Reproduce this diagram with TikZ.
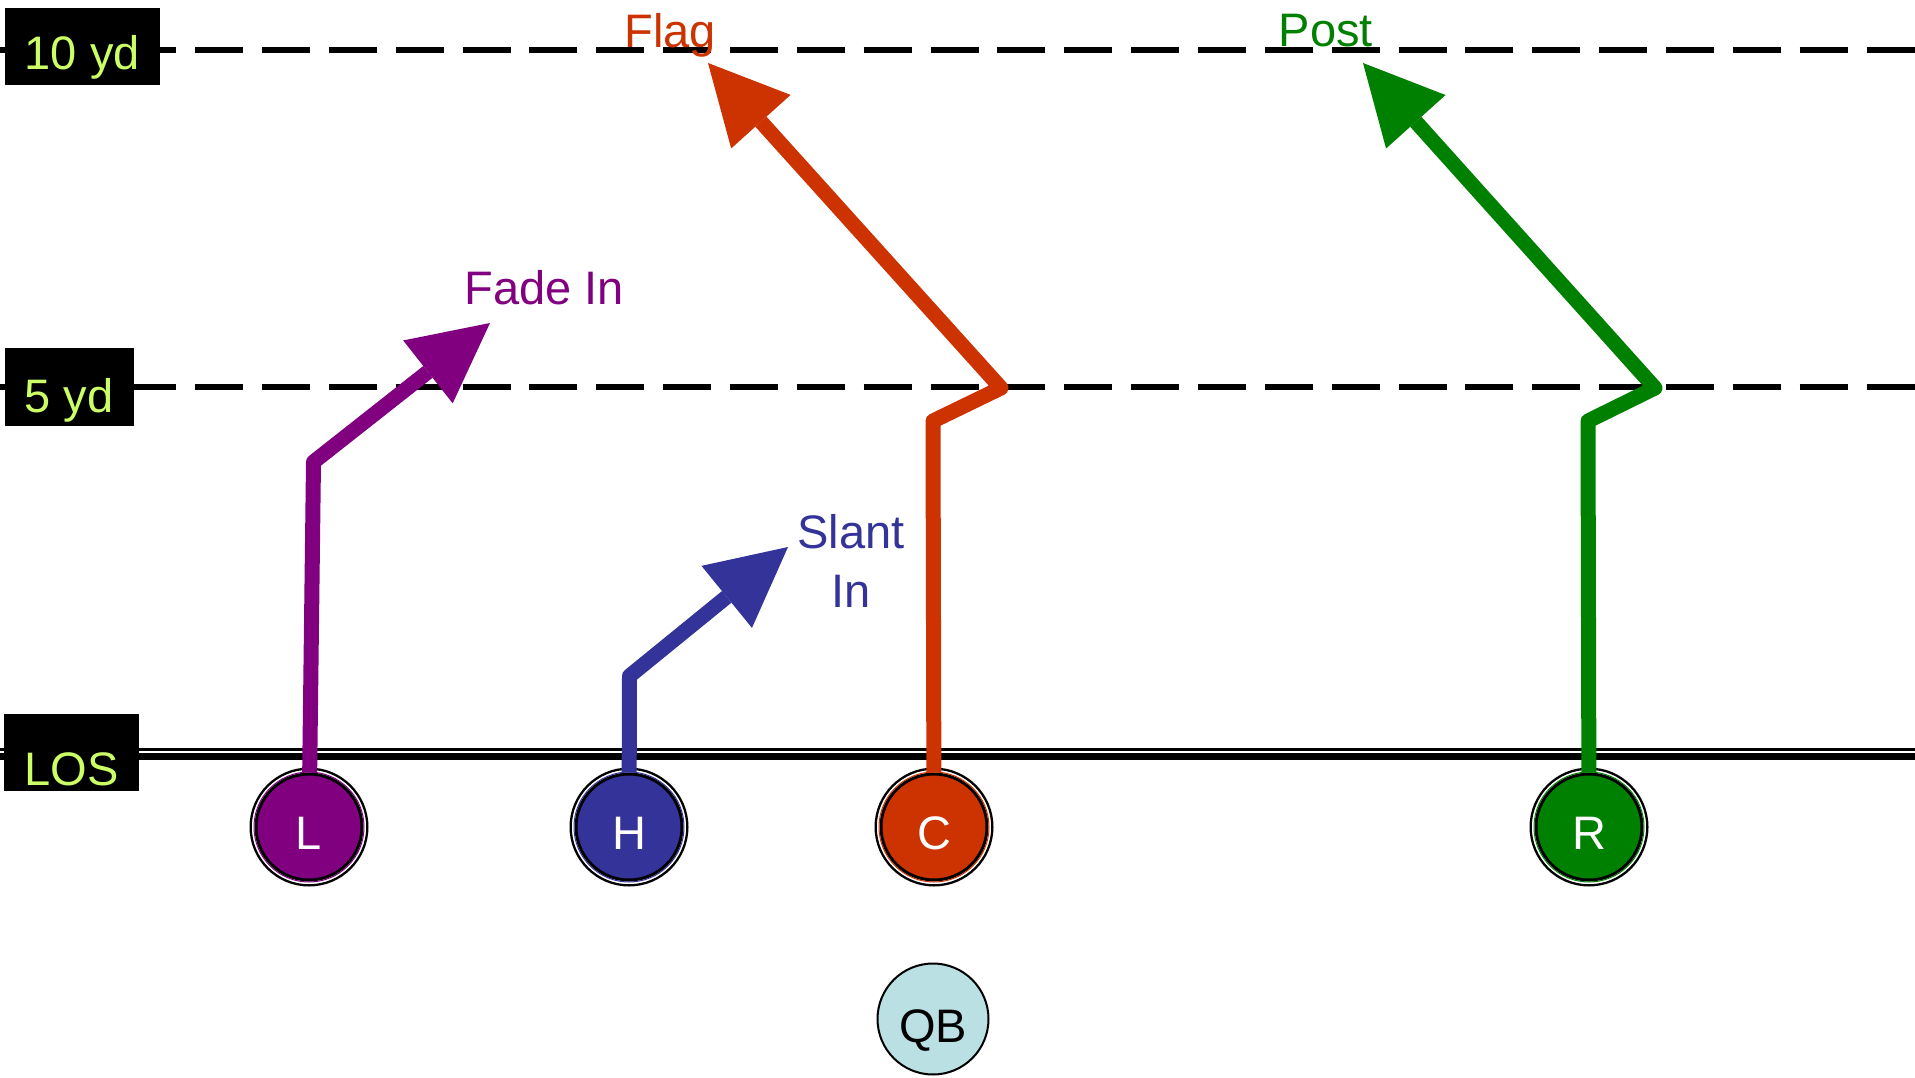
\documentclass[tikz,border=0pt]{standalone}
\usepackage{fontspec}
\setmainfont{Liberation Sans}
\usetikzlibrary{arrows.meta}
\definecolor{lpurple}{HTML}{800080}
\definecolor{hblue}{HTML}{333399}
\definecolor{corange}{HTML}{CC3300}
\definecolor{rgreen}{HTML}{008000}
\definecolor{qbfill}{HTML}{BBE0E3}
\definecolor{ydtext}{HTML}{CCFF66}
\begin{document}
\begin{tikzpicture}[x=1pt,y=-1pt,
  every node/.style={font=\fontsize{47}{56}\selectfont},
  yardline/.style={line width=5.7pt, dash pattern=on 48pt off 18.86pt, dash phase=5.5pt},
  ydbox/.style={rectangle, fill=black, text=ydtext, inner sep=0pt, anchor=base},
  player/.style={circle, inner sep=0pt, minimum size=106pt, draw=black, line width=3pt, text=white, text height=44pt, text depth=0pt},
  outerring/.style={draw=black, line width=2.3pt},
  route/.style={line width=15pt, line join=round, -{Triangle[length=79pt,width=80pt,line width=0pt]}},
  lbl/.style={anchor=base, inner sep=0pt},
]
\useasboundingbox (0,0) rectangle (1915,1078);
\fill[white] (0,0) rectangle (1915,1078);

% line of scrimmage (double line) and yard lines
\draw[line width=2.4pt] (0,749.5) -- (1915,749.5);
\draw[line width=6.7pt] (0,756.6) -- (1915,756.6);
\draw[yardline] (0,50) -- (1915,50);
\draw[yardline] (0,387) -- (1915,387);

% yard labels
\node[ydbox, text height=57pt, text depth=10pt, minimum width=155.5pt, minimum height=77pt] (y10) at (82.25,70) {10 yd};
\node[ydbox, text height=60pt, text depth=10pt, minimum width=129.5pt, minimum height=78pt] (y5) at (69.25,412) {5 yd};
\node[ydbox, text height=70pt, text depth=5pt, minimum width=135pt, minimum height=77pt] (los) at (71.5,785) {LOS};

% players
\node[player, fill=lpurple] (L) at (309,827) {L};
\node[player, fill=hblue] (H) at (629,827) {H};
\node[player, fill=corange] (C) at (934,827) {C};
\node[player, fill=rgreen] (R) at (1589,827) {R};
\foreach \p/\c in {L/lpurple, H/hblue, C/corange, R/rgreen}{
  \draw[outerring] (\p.center) circle[radius=58.35];
  \draw[\c, line width=1pt] (\p.center) circle[radius=55];
}
\node[circle, inner sep=0pt, minimum size=111pt, draw=black, line width=2pt, fill=qbfill, text=black, text height=46pt, text depth=0pt] (QB) at (933,1019) {QB};

% route points
\coordinate (Lb1) at (313.5,462);
\coordinate (Lt) at (490,323);
\coordinate (Hb1) at (629.5,676);
\coordinate (Ht) at (788,547);
\coordinate (Cb1) at (933,421);
\coordinate (Cb2) at (1001,388);
\coordinate (Ct) at (708,63);
\coordinate (Rb1) at (1588,421);
\coordinate (Rb2) at (1655,388);
\coordinate (Rt) at (1363,63);

% routes
\draw[route, lpurple] (L) -- (Lb1) -- (Lt);
\draw[route, hblue] (H) -- (Hb1) -- (Ht);
\draw[route, corange] (C) -- (Cb1) -- (Cb2) -- (Ct);
\draw[route, rgreen] (R) -- (Rb1) -- (Rb2) -- (Rt);

% route labels
\node[lbl, text=corange] (flag) at (670,48) {Flag};
\node[lbl, text=rgreen] (post) at (1326,47) {Post};
\node[lbl, text=lpurple] (fade) at (544,304) {Fade In};
\node[lbl, text=hblue] (slantA) at (851,548) {Slant};
\node[lbl, text=hblue] (slantB) at (851,607) {In};
\end{tikzpicture}
\end{document}
